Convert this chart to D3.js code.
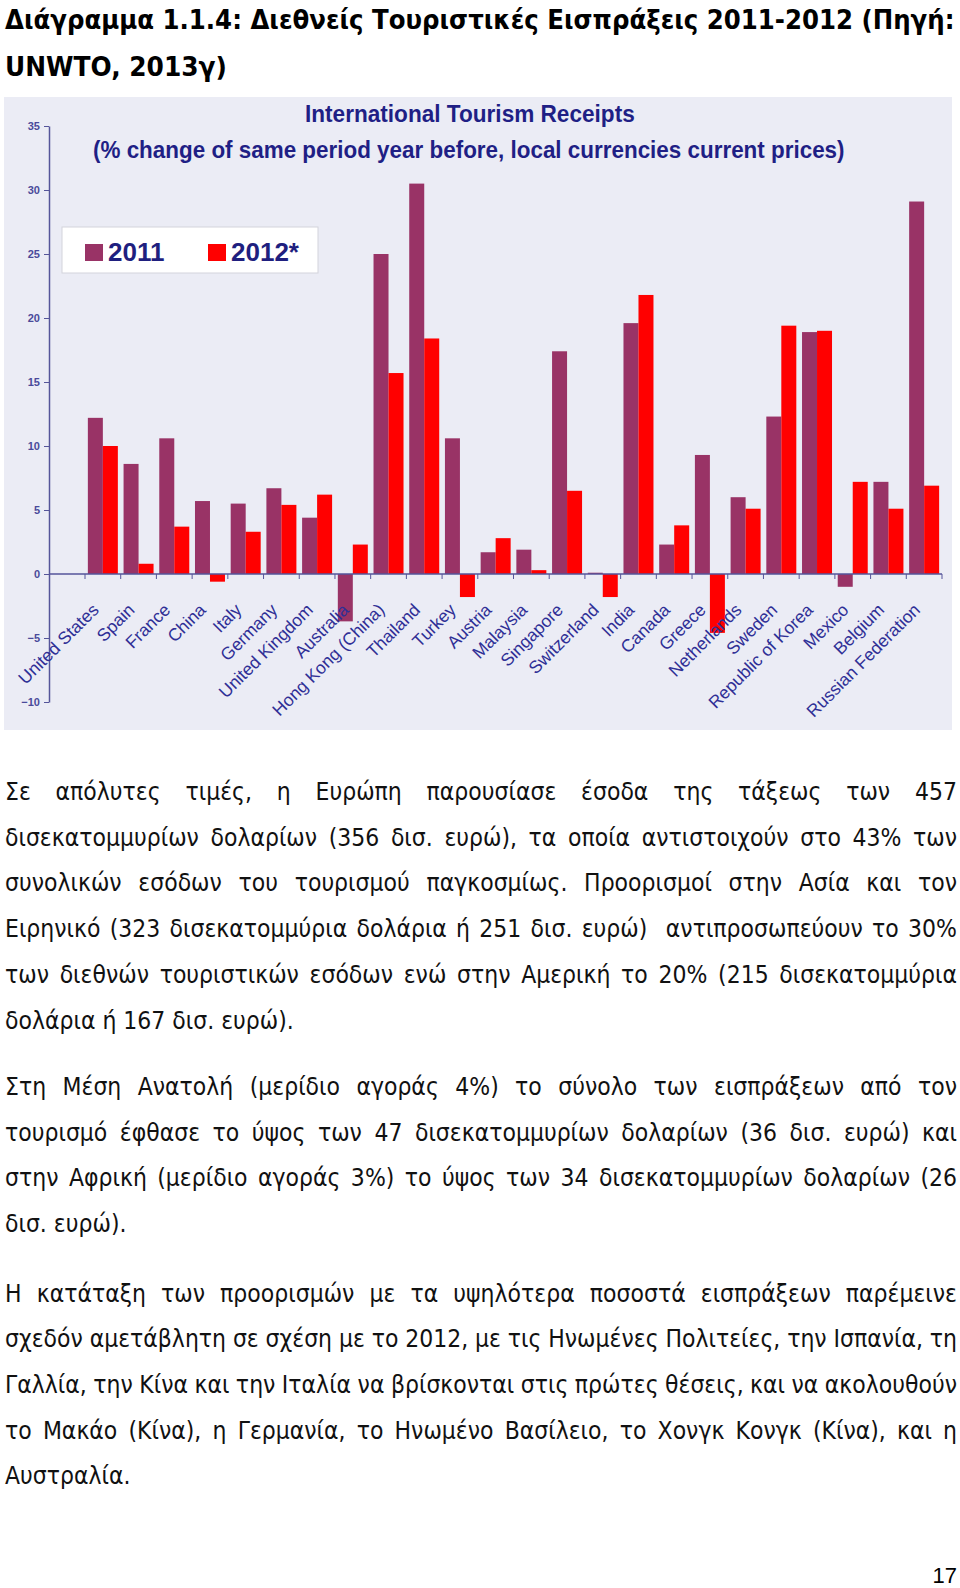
<!DOCTYPE html>
<html><head><meta charset="utf-8">
<script src="https://cdn.jsdelivr.net/npm/d3@7"></script>
<style>html,body{margin:0;padding:0;background:#fff;} svg{display:block;}</style>
</head><body>
<script>
// ---------- DATA ----------
const categories = ["United States","Spain","France","China","Italy","Germany","United Kingdom","Australia","Hong Kong (China)","Thailand","Turkey","Austria","Malaysia","Singapore","Switzerland","India","Canada","Greece","Netherlands","Sweden","Republic of Korea","Mexico","Belgium","Russian Federation"];
const values2011 = [12.2, 8.6, 10.6, 5.7, 5.5, 6.7, 4.4, -3.7, 25.0, 30.5, 10.6, 1.7, 1.9, 17.4, 0.1, 19.6, 2.3, 9.3, 6.0, 12.3, 18.9, -1.0, 7.2, 29.1];
const values2012 = [10.0, 0.8, 3.7, -0.6, 3.3, 5.4, 6.2, 2.3, 15.7, 18.4, -1.8, 2.8, 0.3, 6.5, -1.8, 21.8, 3.8, -4.6, 5.1, 19.4, 19.0, 7.2, 5.1, 6.9];
const seriesNames = ["2011", "2012*"];
const yTicks = [-10, -5, 0, 5, 10, 15, 20, 25, 30, 35];
const chartTitle = ["International Tourism Receipts", "(% change of same period year before, local currencies current prices)"];
const pageTitle = ["Διάγραμμα 1.1.4: Διεθνείς Τουριστικές Εισπράξεις 2011-2012 (Πηγή:", "UNWTO, 2013γ)"];
const paragraph1 = [
  "Σε απόλυτες τιμές, η Ευρώπη παρουσίασε έσοδα της τάξεως των 457",
  "δισεκατομμυρίων δολαρίων (356 δισ. ευρώ), τα οποία αντιστοιχούν στο 43% των",
  "συνολικών εσόδων του τουρισμού παγκοσμίως. Προορισμοί στην Ασία και τον",
  "Ειρηνικό (323 δισεκατομμύρια δολάρια ή 251 δισ. ευρώ)  αντιπροσωπεύουν το 30%",
  "των διεθνών τουριστικών εσόδων ενώ στην Αμερική το 20% (215 δισεκατομμύρια",
  "δολάρια ή 167 δισ. ευρώ)."
];
const paragraph2 = [
  "Στη Μέση Ανατολή (μερίδιο αγοράς 4%) το σύνολο των εισπράξεων από τον",
  "τουρισμό έφθασε το ύψος των 47 δισεκατομμυρίων δολαρίων (36 δισ. ευρώ) και",
  "στην Αφρική (μερίδιο αγοράς 3%) το ύψος των 34 δισεκατομμυρίων δολαρίων (26",
  "δισ. ευρώ)."
];
const paragraph3 = [
  "Η κατάταξη των προορισμών με τα υψηλότερα ποσοστά εισπράξεων παρέμεινε",
  "σχεδόν αμετάβλητη σε σχέση με το 2012, με τις Ηνωμένες Πολιτείες, την Ισπανία, τη",
  "Γαλλία, την Κίνα και την Ιταλία να βρίσκονται στις πρώτες θέσεις, και να ακολουθούν",
  "το Μακάο (Κίνα), η Γερμανία, το Ηνωμένο Βασίλειο, το Χονγκ Κονγκ (Κίνα), και η",
  "Αυστραλία."
];
const pageNumber = "17";

// ---------- SETUP ----------
const W = 960, H = 1588;
const svg = d3.select("body").append("svg").attr("width", W).attr("height", H);
const bodyFont = "'DejaVu Sans', Verdana, sans-serif";
const chartFont = "'Liberation Sans', Arial, sans-serif";

// text squeezed horizontally to a target width using a scale transform
function fitText(parent, str, x, y, width, attrs) {
  const t = parent.append("text");
  Object.entries(attrs).forEach(([k, v]) => t.attr(k, v));
  t.text(str);
  const nat = t.node().getComputedTextLength();
  const s = width / nat;
  t.attr("transform", `translate(${x},${y}) scale(${s},1)`);
  return t;
}

// Page title
const titleAttrs = { "font-family": bodyFont, "font-weight": "bold", "font-size": 27, "fill": "#000" };
fitText(svg, pageTitle[0], 5, 29, 950, titleAttrs);
fitText(svg, pageTitle[1], 5, 76, 222, titleAttrs);

// ---------- CHART ----------
svg.append("rect").attr("x", 4).attr("y", 97).attr("width", 948).attr("height", 633).attr("fill", "#EBECF5");

const y = d3.scaleLinear().domain([-10, 35]).range([702, 126]);
const x0 = d3.scaleBand().domain(categories).range([85, 942]).paddingInner(0.16).paddingOuter(0.08);
const x1 = d3.scaleBand().domain(seriesNames).range([0, x0.bandwidth()]);
const color = d3.scaleOrdinal().domain(seriesNames).range(["#993366", "#FF0000"]);
const seriesValues = [values2011, values2012];

const chart = svg.append("g");

// chart title
const ctAttrs = { "font-family": chartFont, "font-weight": "bold", "font-size": 24, "fill": "#1F1F85" };
fitText(chart, chartTitle[0], 305, 122, 330, ctAttrs);
fitText(chart, chartTitle[1], 93, 158, 752, ctAttrs);

// bars
const groups = chart.selectAll("g.cat").data(categories).enter().append("g")
  .attr("class", "cat")
  .attr("transform", d => `translate(${x0(d)},0)`);
groups.selectAll("rect").data((d, i) => seriesNames.map((s, k) => ({ s, v: seriesValues[k][i] })))
  .enter().append("rect")
  .attr("x", d => x1(d.s))
  .attr("width", x1.bandwidth())
  .attr("y", d => y(Math.max(0, d.v)))
  .attr("height", d => Math.max(1, Math.abs(y(d.v) - y(0))))
  .attr("fill", d => color(d.s));

// y axis
const yAxis = chart.append("g").attr("transform", "translate(49,0)")
  .call(d3.axisLeft(y).tickValues(yTicks).tickSize(5).tickSizeOuter(0).tickPadding(4));
yAxis.select(".domain").attr("stroke", "#55559A").attr("stroke-width", 1.5);
yAxis.selectAll(".tick line").attr("stroke", "#55559A");
yAxis.selectAll(".tick text").attr("font-family", chartFont).attr("font-size", 11)
  .attr("font-weight", "bold").attr("fill", "#4A4A9A");

// x axis line and boundary ticks
const step = x0.step(), gap = step * x0.paddingInner();
const bounds = categories.map(c => x0(c) - gap / 2).concat([x0(categories[categories.length - 1]) + x0.bandwidth() + gap / 2]);
chart.append("line").attr("x1", 49).attr("x2", bounds[bounds.length - 1])
  .attr("y1", y(0)).attr("y2", y(0)).attr("stroke", "#55559A").attr("stroke-width", 1.5);
chart.selectAll("line.xt").data(bounds).enter().append("line").attr("class", "xt")
  .attr("x1", d => d).attr("x2", d => d).attr("y1", y(0)).attr("y2", y(0) + 5)
  .attr("stroke", "#55559A");

// category labels
chart.selectAll("text.xl").data(categories).enter().append("text").attr("class", "xl")
  .attr("transform", d => `translate(${x0(d) + x0.bandwidth() / 2 - 3},${y(0) + 37}) rotate(-45)`)
  .attr("text-anchor", "end")
  .attr("font-family", chartFont).attr("font-size", 17.5)
  .attr("fill", "#2F2F96")
  .text(d => d);

// legend
const lg = chart.append("g");
lg.append("rect").attr("x", 62).attr("y", 227).attr("width", 256).attr("height", 46)
  .attr("fill", "#FFFFFF").attr("stroke", "#D3D3DC");
const legendX = [85, 208];
seriesNames.forEach((s, i) => {
  lg.append("rect").attr("x", legendX[i]).attr("y", 244).attr("width", 18).attr("height", 17).attr("fill", color(s));
  lg.append("text").attr("x", legendX[i] + 23).attr("y", 261)
    .attr("font-family", chartFont).attr("font-weight", "bold").attr("font-size", 26)
    .attr("fill", "#1F1F7F").text(s);
});

// ---------- BODY TEXT ----------
const left = 5, right = 957;
const fs = 25;
// calibrate horizontal scale with the last line of paragraph 1 (natural width ~289px)
const calib = svg.append("text").attr("font-family", bodyFont).attr("font-size", fs).text(paragraph1[5]);
const sx = 289 / calib.node().getComputedTextLength();
calib.remove();

function drawParagraph(lines, y0, lh) {
  lines.forEach((line, li) => {
    const yy = y0 + li * lh;
    const last = li === lines.length - 1;
    const t = svg.append("text")
      .attr("transform", `translate(${left},${yy}) scale(${sx},1)`)
      .attr("font-family", bodyFont).attr("font-size", fs).attr("fill", "#111");
    if (last) { t.text(line); return; }
    const words = line.split(" ");
    const spans = words.map(w => t.append("tspan").text(w));
    const widths = spans.map(sp => sp.text() === "" ? 0 : sp.node().getComputedTextLength());
    const total = d3.sum(widths);
    const avail = (right - left) / sx;
    const g = (avail - total) / (words.length - 1);
    let cx = 0;
    spans.forEach((sp, k) => { sp.attr("x", cx); cx += widths[k] + g; });
  });
}
drawParagraph(paragraph1, 800, 45.7);
drawParagraph(paragraph2, 1095, 45.7);
drawParagraph(paragraph3, 1301.5, 45.7);

svg.append("text").attr("x", 957).attr("y", 1583).attr("text-anchor", "end")
  .attr("font-family", chartFont).attr("font-size", 22).attr("fill", "#000").text(pageNumber);
</script>
</body></html>
